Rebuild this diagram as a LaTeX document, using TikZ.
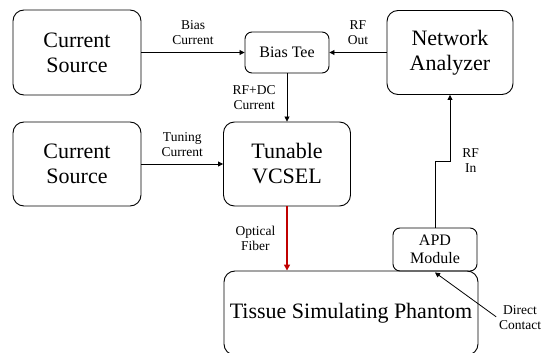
\documentclass[tikz,border=0pt]{standalone}
\usepackage{fontspec}
\setmainfont{LiberationSerif}[Extension=.ttf,UprightFont=*-Regular,BoldFont=*-Bold]
\usetikzlibrary{arrows.meta}
\definecolor{fiberred}{RGB}{192,0,0}
\begin{document}
\begin{tikzpicture}
[x=1pt,y=-1pt,
  bigbox/.style={shape=rectangle,rounded corners=11pt,draw,line width=0.9pt,align=center,font=\rmfamily\fontsize{22}{25}\selectfont},%
  smallbox/.style={shape=rectangle,rounded corners=7pt,draw,line width=0.9pt,align=center,font=\rmfamily\fontsize{16}{18}\selectfont},%
  tag/.style={align=center,inner sep=1pt,font=\rmfamily\fontsize{13.5}{15}\selectfont},%
  linedecorate/.style={-{Triangle[length=5pt,width=5pt]},line width=0.8pt},%
  fiberline/.style={linedecorate,line width=1.5pt,draw=fiberred,-{Triangle[length=6pt,width=6pt]}}]
%% frame
\useasboundingbox (0,0) rectangle (542,353);
\clip (0,0) rectangle (542,353);
%% blocks
\foreach \nodename/\x/\y/\w/\h/\txt in {
  srcbias/77/52.5/128/85/{Current\\Source}, srctune/77/164/128/84/{Current\\Source},
  analyzer/450/52.5/126/84/{Network\\Analyzer}, vcsel/287/164/127/84/{Tunable\\VCSEL},
  phantom/351/313/254/84/{Tissue Simulating Phantom}}
{
  \node (\nodename) at (\x,\y) [bigbox,minimum width=\w pt,minimum height=\h pt] {\txt};
}
\node (biastee) at (287,52.5) [smallbox,minimum width=84pt,minimum height=41pt] {Bias Tee};
\node (apd) at (435,249.5) [smallbox,minimum width=84pt,minimum height=43pt] {APD\\Module};
%% connectors
\path
  (srcbias) edge[linedecorate] node[tag,above=6pt] {Bias\\Current} (biastee)
  (analyzer) edge[linedecorate] node[tag,above=6pt] {RF\\Out} (biastee)
  (biastee) edge[linedecorate] node[tag,left=10pt] {RF+DC\\Current} (vcsel)
  (srctune) edge[linedecorate] node[tag,above=6pt] {Tuning\\Current} (vcsel);
\draw[fiberline] (vcsel.south) -- node[tag,left=10pt,text=black] {Optical\\Fiber} (vcsel.south |- phantom.north);
\coordinate (rfbend) at (450,161);
\draw[linedecorate] (apd.north) -- (apd.north |- rfbend) -- (rfbend)
  -- node[pos=0,tag,right=11pt] {RF\\In} (analyzer.south);
\node (contact) at (520,318) [tag] {Direct\\Contact};
\draw[linedecorate,shorten <=2pt] (contact.west) -- ([yshift=-1pt]apd.south);
\end{tikzpicture}
\end{document}
